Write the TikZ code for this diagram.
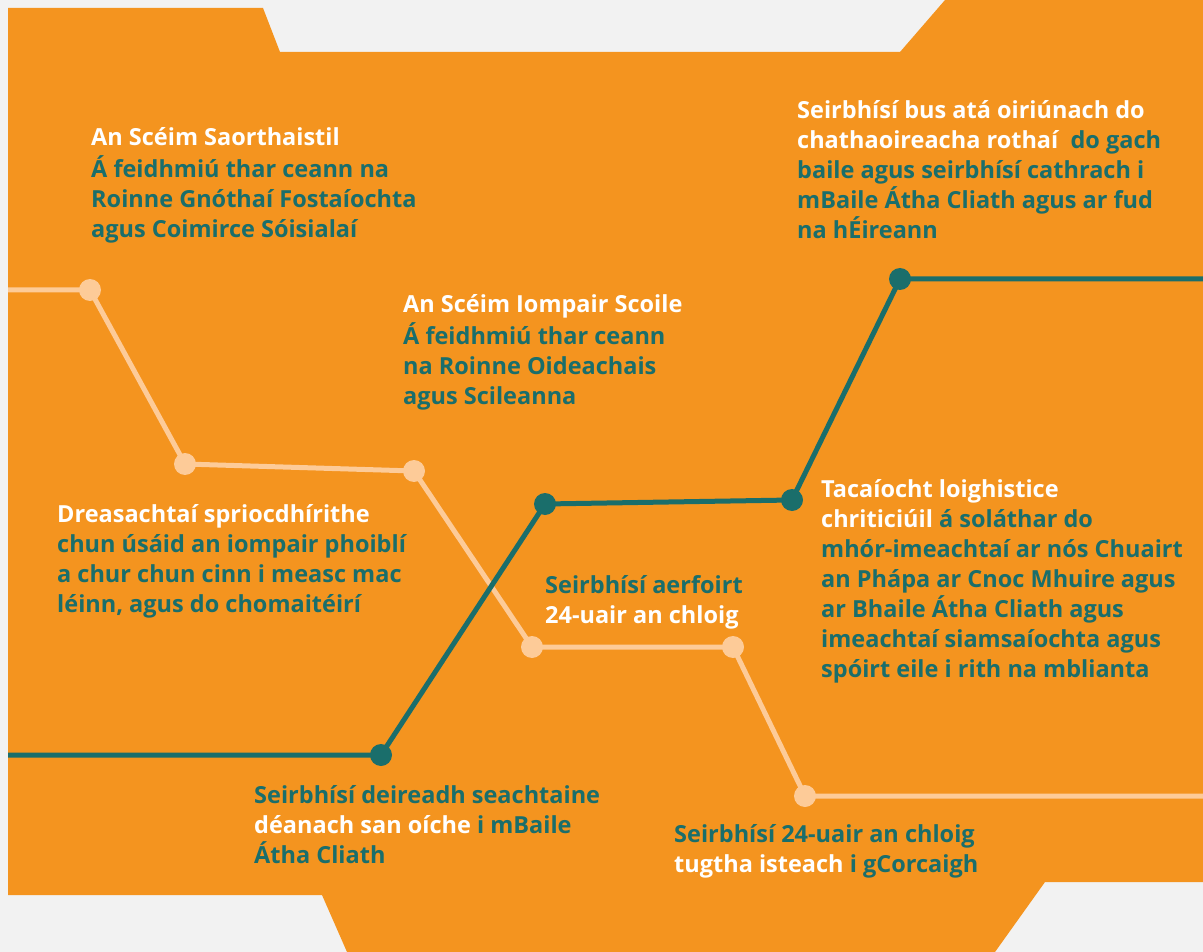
\documentclass[tikz,border=0pt]{standalone}
\usepackage{fontspec}
\setmainfont{Open Sans}
\definecolor{bgray}{HTML}{F2F2F2}
\definecolor{orng}{HTML}{F4941F}
\definecolor{teal}{HTML}{1A6E6B}
\definecolor{peach}{HTML}{FDCB98}
\newcommand{\wt}[1]{\textcolor{white}{#1}}
\begin{document}
\begin{tikzpicture}[x=1pt,y=-1pt,
  txt/.style={anchor=north west,inner sep=0pt,align=left,text=teal,
    font=\fontsize{23.5}{30}\selectfont\bfseries},
  pline/.style={draw=peach,line width=5pt,line join=round},
  tline/.style={draw=teal,line width=5pt,line join=round},
  pdot/.style={circle,fill=peach,minimum size=22pt,inner sep=0pt},
  tdot/.style={circle,fill=teal,minimum size=22pt,inner sep=0pt}]
\useasboundingbox (0,0) rectangle (1203,952);
\fill[bgray] (0,0) rectangle (1203,952);
\fill[orng] (8,8) -- (263,8) -- (280,52) -- (900,52) -- (945,0) -- (1203,0)
  -- (1203,882) -- (1045,882) -- (995,952) -- (347,952) -- (322,895) -- (8,895) -- cycle;
% peach line
\coordinate (pL) at (8,290);
\coordinate (pR) at (1203,796);
\node[pdot] (p1) at (90,290) {};
\node[pdot] (p2) at (185,464) {};
\node[pdot] (p3) at (414,471) {};
\node[pdot] (p4) at (532,647) {};
\node[pdot] (p5) at (733,647) {};
\node[pdot] (p6) at (805,796) {};
\draw[pline] (pL) -- (p1.center) -- (p2.center) -- (p3.center) -- (p4.center) -- (p5.center) -- (p6.center) -- (pR);
% teal line
\coordinate (tL) at (8,755);
\coordinate (tR) at (1203,279);
\node[tdot] (t1) at (381,755) {};
\node[tdot] (t2) at (545,504) {};
\node[tdot] (t3) at (792,500) {};
\node[tdot] (t4) at (900,279) {};
\draw[tline] (tL) -- (t1.center) -- (t2.center) -- (t3.center) -- (t4.center) -- (tR);
% texts (first baseline - 21)
\node[txt] (a) at (91,124.7) {\strut\wt{An Scéim Saorthaistil}\\Á feidhmiú thar ceann na\\Roinne Gnóthaí Fostaíochta\\agus Coimirce Sóisialaí};
\node[txt] (b) at (797,97) {\strut\wt{Seirbhísí bus atá oiriúnach do}\\\wt{chathaoireacha rothaí}\ \ do gach\\baile agus seirbhísí cathrach i\\mBaile Átha Cliath agus ar fud\\na hÉireann};
\node[txt] (c) at (403,291) {\strut\wt{An Scéim Iompair Scoile}\\Á feidhmiú thar ceann\\na Roinne Oideachais\\agus Scileanna};
\node[txt] (d) at (57,501) {\strut\wt{Dreasachtaí spriocdhírithe}\\chun úsáid an iompair phoiblí\\a chur chun cinn i measc mac\\léinn, agus do chomaitéirí};
\node[txt] (e) at (545,572) {\strut Seirbhísí aerfoirt\\\wt{24-uair an chloig}};
\node[txt] (f) at (821,476) {\strut\wt{Tacaíocht loighistice}\\\wt{chriticiúil} á soláthar do\\mhór-imeachtaí ar nós Chuairt\\an Phápa ar Cnoc Mhuire agus\\ar Bhaile Átha Cliath agus\\imeachtaí siamsaíochta agus\\spóirt eile i rith na mblianta};
\node[txt] (g) at (254,782) {\strut Seirbhísí deireadh seachtaine\\\wt{déanach san oíche} i mBaile\\Átha Cliath};
\node[txt] (h) at (674,821) {\strut Seirbhísí 24-uair an chloig\\\wt{tugtha isteach} i gCorcaigh};
\end{tikzpicture}
\end{document}
